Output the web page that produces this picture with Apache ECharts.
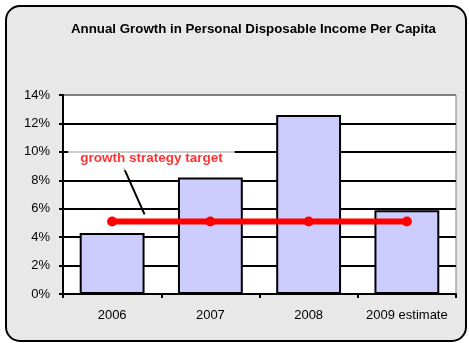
<!DOCTYPE html>
<html>
<head>
<meta charset="utf-8">
<script src="https://cdn.jsdelivr.net/npm/echarts@6/dist/echarts.min.js"></script>
<style>
  html, body { margin: 0; padding: 0; background: #ffffff; }
  #chart { width: 469px; height: 343px; }
</style>
</head>
<body>
<div id="chart"></div>
<script>
// Annual growth figures (percent)
const years = ['2006', '2007', '2008', '2009 estimate'];
const growth = [4.3, 8.2, 12.6, 5.9];
const target = [5.1, 5.1, 5.1, 5.1];
const yTicks = [0, 2, 4, 6, 8, 10, 12, 14];

// Callout: text anchor and leader line, in (category units, percent)
const calloutText = 'growth strategy target';
const calloutAnchor = [[0.9, 9.55]];
const calloutLeader = [[0.62, 8.85], [0.83, 5.6]];

const chart = echarts.init(document.getElementById('chart'));
const font = 'Liberation Sans, Arial, sans-serif';

chart.setOption({
  animation: false,
  backgroundColor: '#ffffff',
  graphic: [{
    type: 'rect',
    left: 5, top: 5,
    shape: { width: 460, height: 335, r: 14 },
    style: { fill: '#e8e8e8', stroke: '#000000', lineWidth: 2 },
    z: -10
  }],
  title: {
    text: 'Annual Growth in Personal Disposable Income Per Capita',
    left: 71, top: 23, padding: 0,
    textStyle: { fontFamily: font, fontSize: 13.3, fontWeight: 'bold', color: '#000' }
  },
  grid: {
    left: 63, right: 13, top: 95, bottom: 49,
    show: true, backgroundColor: '#ffffff', borderColor: '#808080', borderWidth: 1
  },
  xAxis: [{
    type: 'category', data: years,
    axisLine: { lineStyle: { color: '#000', width: 2 } },
    axisTick: { show: true, length: 4, lineStyle: { color: '#000', width: 2 } },
    axisLabel: { fontFamily: font, fontSize: 13, color: '#000', margin: 15, interval: 0 }
  }, {
    type: 'value', min: 0, max: 4, show: false, position: 'bottom'
  }],
  yAxis: {
    type: 'value', min: 0, max: 14, interval: 2,
    axisLine: { show: true, lineStyle: { color: '#000', width: 2 } },
    axisTick: { show: true, length: 4, lineStyle: { color: '#000', width: 2 } },
    axisLabel: { fontFamily: font, fontSize: 13, color: '#000', margin: 13,
      formatter: v => v + '%' },
    splitLine: { lineStyle: { color: yTicks.map((t, i) => i === yTicks.length - 1 ? '#808080' : '#000'), width: 2 } }
  },
  series: [{
    type: 'bar', data: growth, barCategoryGap: '34%',
    itemStyle: { color: '#ccccff', borderColor: '#000', borderWidth: 2 },
    z: 2
  }, {
    type: 'line', data: target, symbol: 'circle', symbolSize: 10,
    lineStyle: { color: '#ff0000', width: 6 },
    itemStyle: { color: '#ff0000' },
    z: 4
  }, {
    type: 'line', xAxisIndex: 1, data: calloutLeader, symbol: 'none',
    lineStyle: { color: '#000', width: 2 }, z: 3
  }, {
    type: 'scatter', xAxisIndex: 1, data: calloutAnchor, symbolSize: 0,
    label: {
      show: true, position: 'inside', formatter: calloutText,
      fontFamily: font, fontSize: 13.5, fontWeight: 'bold', color: '#ff0000',
      backgroundColor: '#ffffff', padding: [7, 12, 3, 12]
    },
    z: 5
  }]
});
</script>
</body>
</html>
